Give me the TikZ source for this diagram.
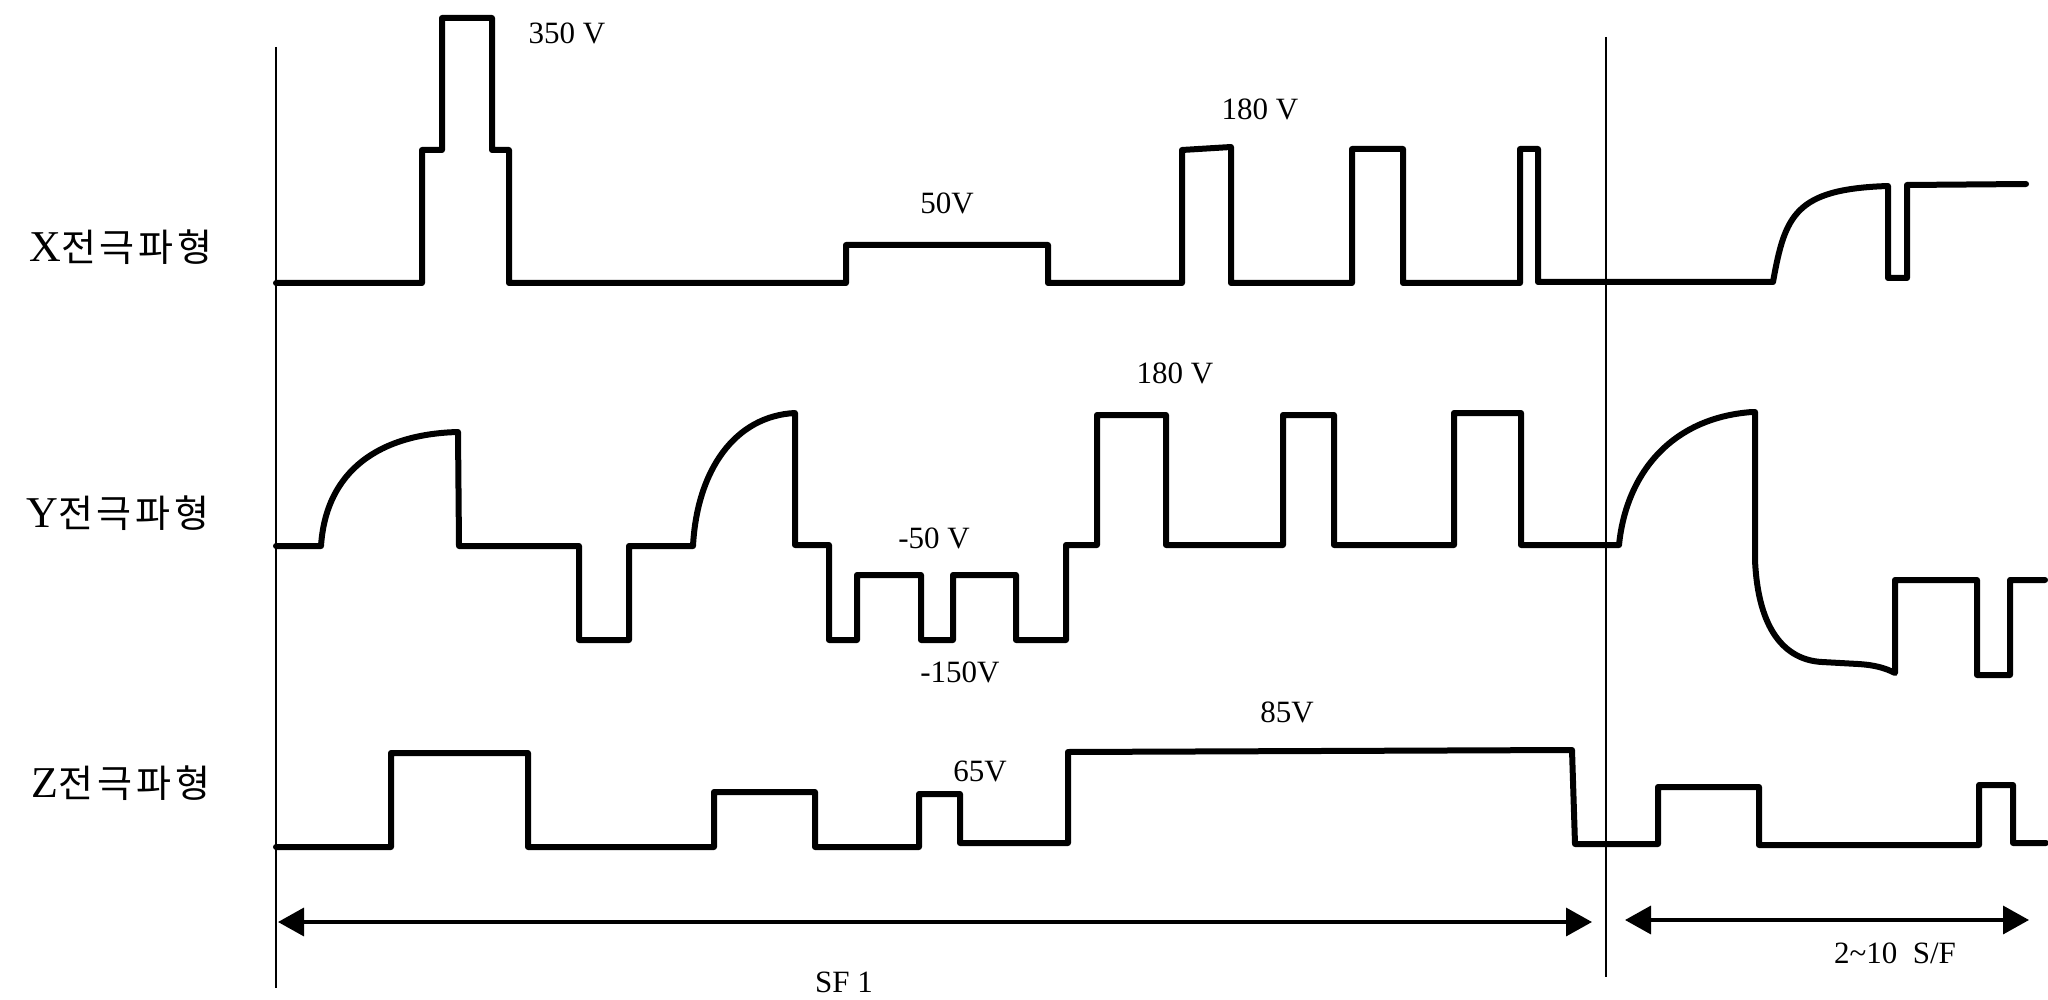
\documentclass[tikz,border=0pt]{standalone}
\usepackage{fontspec}
\setmainfont{Liberation Serif}
\newfontfamily\krfont[LetterSpace=10]{Noto Sans CJK KR}
\usetikzlibrary{arrows.meta}
\begin{document}
\begin{tikzpicture}[x=1pt,y=-1pt,
  wave/.style={line width=6pt, line join=round, line cap=round},
  guide/.style={line width=2.5pt},
  span/.style={line width=3.5pt, {Triangle[length=26pt,width=28pt]}-{Triangle[length=26pt,width=28pt]}},
  volt/.style={font=\fontsize{31}{33}\selectfont, inner sep=0pt},
  axlabel/.style={inner sep=0pt, anchor=center},
]
\useasboundingbox (0,0) rectangle (2048,1000);
\fill[white] (0,0) rectangle (2048,1000);

% guide lines
\coordinate (g1t) at (276,47);  \coordinate (g1b) at (276,988);
\coordinate (g2t) at (1606,37); \coordinate (g2b) at (1606,977);
\draw[guide] (g1t) -- (g1b);
\draw[guide] (g2t) -- (g2b);

% row labels
\node[axlabel] (lx) at (121,247) {{\fontsize{44}{46}\selectfont X}{\krfont\fontsize{38}{40}\selectfont 전극파형}};
\node[axlabel] (ly) at (118,513) {{\fontsize{44}{46}\selectfont Y}{\krfont\fontsize{38}{40}\selectfont 전극파형}};
\node[axlabel] (lz) at (121,783) {{\fontsize{44}{46}\selectfont Z}{\krfont\fontsize{38}{40}\selectfont 전극파형}};

% X waveform
\draw[wave] (276,283) -- (422,283) -- (422,150) -- (442,150) -- (442,18) -- (492,18)
  -- (492,150) -- (509,150) -- (509,283) -- (846,283) -- (846,245) -- (1048,245)
  -- (1048,283) -- (1182,283) -- (1182,150) -- (1231,147) -- (1231,283)
  -- (1352,283) -- (1352,149) -- (1403,149) -- (1403,283)
  -- (1520,283) -- (1520,149) -- (1538,149) -- (1538,282) -- (1773,282)
  .. controls (1785,215) and (1795,189) .. (1888,186)
  -- (1888,278) -- (1907,278) -- (1907,185) -- (2026,184);

% Y waveform
\draw[wave] (276,546) -- (321,546) .. controls (326,470) and (380,434) .. (458,432)
  -- (459,546) -- (579,546) -- (579,640) -- (629,640) -- (629,546) -- (693,546)
  .. controls (697,470) and (735,416) .. (795,413)
  -- (795,545) -- (829,545) -- (829,640) -- (857,640) -- (857,575) -- (921,575)
  -- (921,640) -- (953,640) -- (953,575) -- (1016,575) -- (1016,640) -- (1066,640)
  -- (1066,545) -- (1097,545) -- (1097,415) -- (1166,415) -- (1166,545)
  -- (1283,545) -- (1283,415) -- (1334,415) -- (1334,545)
  -- (1454,545) -- (1454,413) -- (1521,413) -- (1521,545) -- (1619,545)
  .. controls (1626,475) and (1670,418) .. (1752,412)
  -- (1755,412) -- (1755,560) .. controls (1758,630) and (1785,660) .. (1822,662)
  -- (1858,664) .. controls (1875,665) and (1885,668) .. (1895,673)
  -- (1895,580) -- (1977,580) -- (1977,675) -- (2010,675) -- (2010,580) -- (2045,580);

% Z waveform
\draw[wave] (276,847) -- (391,847) -- (391,753) -- (528,753) -- (528,847)
  -- (714,847) -- (714,792) -- (815,792) -- (815,847)
  -- (919,847) -- (919,794) -- (960,794) -- (960,843)
  -- (1068,843) -- (1068,752) -- (1572,750) -- (1575,844)
  -- (1658,844) -- (1658,787) -- (1759,787) -- (1759,845)
  -- (1979,845) -- (1979,785) -- (2013,785) -- (2013,843) -- (2046,843);

% voltage labels
\node[volt] (v350) at (567,33) {350 V};
\node[volt] (v50) at (947,203) {50V};
\node[volt] (v180x) at (1260,109) {180 V};
\node[volt] (v180y) at (1175,373) {180 V};
\node[volt] (vm50) at (934,538) {-50 V};
\node[volt] (vm150) at (960,672) {-150V};
\node[volt] (v65) at (980,771) {65V};
\node[volt] (v85) at (1287,712) {85V};

% spans
\coordinate (s1l) at (278,922); \coordinate (s1r) at (1592,922);
\coordinate (s2l) at (1625,920); \coordinate (s2r) at (2029,920);
\draw[span] (s1l) -- (s1r);
\draw[span] (s2l) -- (s2r);
\node[volt] (sf1) at (844,982) {SF 1};
\node[volt] (sf2) at (1895,953) {2\textasciitilde10\ \ S/F};
\end{tikzpicture}
\end{document}
